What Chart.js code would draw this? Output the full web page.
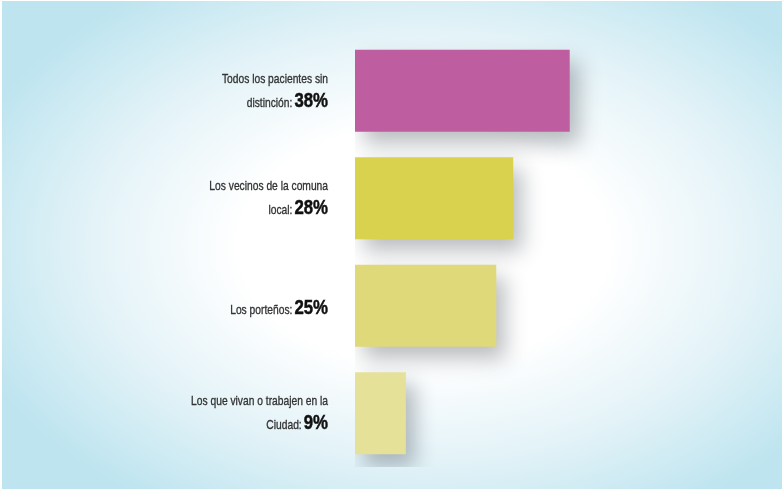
<!DOCTYPE html>
<html>
<head>
<meta charset="utf-8">
<script src="https://cdn.jsdelivr.net/npm/chart.js@4.4.0/dist/chart.umd.min.js"></script>
<style>
  html, body { margin: 0; padding: 0; background: #fff; }
  #wrap { position: relative; width: 782px; height: 500px; }
  #bg {
    position: absolute; left: 2px; top: 1px; width: 780px; height: 488px;
    background: radial-gradient(ellipse 62% 64% at 54% 50%, #ffffff 0%, #ffffff 38%, #e4f3f8 68%, #bde4ef 100%);
  }
  #chart { position: absolute; left: 0; top: 0; }
</style>
</head>
<body>
<div id="wrap">
  <div id="bg"></div>
  <canvas id="chart" width="782" height="500"></canvas>
</div>
<script>
// Encuesta: a quién debería atender el hospital

const labelLines = [
  ['Todos los pacientes sin', 'distinción:'],
  ['Los vecinos de la comuna', 'local:'],
  ['Los porteños:'],
  ['Los que vivan o trabajen en la', 'Ciudad:']
];
const values = [38, 28, 25, 9];
const barColors = ['#be5ea1', '#d8d24f', '#dfd979', '#e6e198'];

// sombra de las barras
const shadowPlugin = {
  id: 'barShadow',
  beforeDatasetsDraw(chart) {
    const c = chart.ctx;
    c.save();
    c.shadowColor = 'rgba(40,50,60,0.32)';
    c.shadowBlur = 20;
    c.shadowOffsetX = 9;
    c.shadowOffsetY = 12;
  },
  afterDatasetsDraw(chart) {
    chart.ctx.restore();
  }
};

// texto condensado: se dibuja escalado en horizontal
function condensed(c, txt, xRight, y, font, sx, color, stroke) {
  c.save();
  c.translate(xRight, y);
  c.scale(sx, 1);
  c.font = font;
  c.textAlign = 'right';
  c.textBaseline = 'alphabetic';
  c.fillStyle = color;
  c.fillText(txt, 0, 0);
  if (stroke) {
    c.strokeStyle = color;
    c.lineWidth = stroke;
    c.strokeText(txt, 0, 0);
  }
  const w = c.measureText(txt).width * sx;
  c.restore();
  return w;
}

// etiquetas a la izquierda: texto normal + porcentaje en negrita
const labelPlugin = {
  id: 'sideLabels',
  afterDraw(chart) {
    const c = chart.ctx;
    const yScale = chart.scales.y;
    const right = chart.chartArea.left - 27;
    const regFont = '13.5px "Liberation Sans", Arial, sans-serif';
    const boldFont = 'bold 21px "Liberation Sans", Arial, sans-serif';

    labelLines.forEach((lines, i) => {
      const cy = yScale.getPixelForValue(i);
      const n = lines.length;
      const base = n === 1 ? cy + 8 : cy - 8;
      lines.forEach((txt, j) => {
        const y = base + j * 24;
        if (j === n - 1) {
          const w = condensed(c, values[i] + '%', right, y, boldFont, 0.8, '#111', 0.5);
          condensed(c, txt, right - w - 2, y, regFont, 0.76, '#333', 0.35);
        } else {
          condensed(c, txt, right, y, regFont, 0.76, '#333', 0.35);
        }
      });
    });
  }
};

new Chart(document.getElementById('chart'), {
  type: 'bar',
  data: {
    labels: labelLines.map(l => l.join(' ')),
    datasets: [{
      data: values,
      backgroundColor: barColors,
      borderWidth: 0,
      categoryPercentage: 1,
      barPercentage: 0.763
    }]
  },
  options: {
    indexAxis: 'y',
    responsive: false,
    animation: false,
    layout: { padding: { left: 355, right: 88, top: 37, bottom: 33 } },
    plugins: { legend: { display: false }, tooltip: { enabled: false } },
    scales: {
      x: { display: false, min: 0, max: 60 },
      y: { display: false }
    }
  },
  plugins: [shadowPlugin, labelPlugin]
});
</script>
</body>
</html>
